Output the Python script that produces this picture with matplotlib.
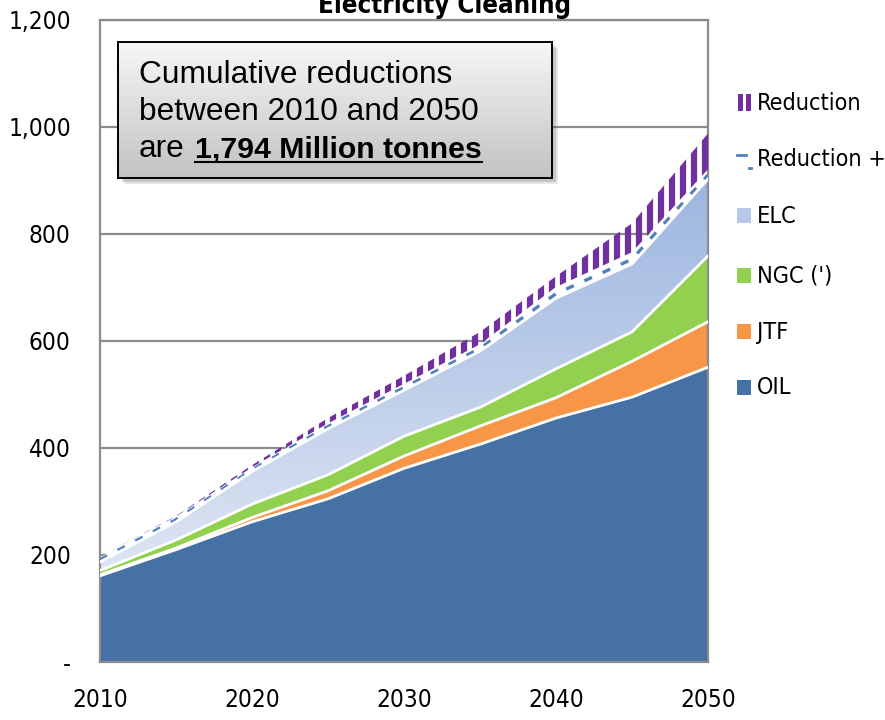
import numpy as np
import matplotlib
import matplotlib.pyplot as plt
from matplotlib.patches import Rectangle
from matplotlib.lines import Line2D
from matplotlib.colors import LinearSegmentedColormap

matplotlib.use("agg")

# CO2 emissions by sector, Mt (stacked)
years = [2010, 2015, 2020, 2025, 2030, 2035, 2040, 2045, 2050]
oil = [161, 210, 262, 305, 362, 407, 456, 495, 551]
jtf = [2, 3, 8, 15, 23, 34, 38, 67, 85]
ngc = [8, 15, 25, 30, 37, 35, 54, 55, 123]
elc = [16, 34, 61, 86, 86, 105, 132, 127, 144]
reduction_plus = [10, 10, 8, 10, 12, 13, 21, 22, 18]
reduction = [0, 1, 4, 10, 15, 23, 20, 54, 67]

legend_labels = ["Reduction", "Reduction +", "ELC", "NGC (')", "JTF", "OIL"]
x_ticks = [2010, 2020, 2030, 2040, 2050]
y_ticks = [0, 200, 400, 600, 800, 1000, 1200]
y_tick_labels = ["-", "200", "400", "600", "800", "1,000", "1,200"]

C_OIL = "#4571a5"
C_JTF = "#f79646"
C_NGC = "#92d050"
ELC_LOW = "#dde5f3"
ELC_HIGH = "#9db6e0"
C_RED = "#7030a0"
C_DASH = "#4f81bd"
C_GRID = "#8c8c8c"

W, H = 885, 720
NARROW = dict(family="DejaVu Sans", fontstretch="condensed")


def fpos(px, py):
    # pixel position (from top-left) -> figure fraction
    return px / W, 1 - py / H


fig = plt.figure(figsize=(W / 100, H / 100), dpi=100)
ax = fig.add_axes([100 / W, 1 - 662 / H, 608 / W, 642 / H])

x = np.array(years, float)
layers = np.array([oil, jtf, ngc, elc, reduction_plus, reduction], float)
tops = np.cumsum(layers, axis=0)
bottoms = np.vstack([np.zeros(len(x)), tops[:-1]])

ax.fill_between(x, bottoms[0], tops[0], color=C_OIL, lw=0, zorder=2)
ax.fill_between(x, bottoms[1], tops[1], color=C_JTF, lw=0, zorder=2)
ax.fill_between(x, bottoms[2], tops[2], color=C_NGC, lw=0, zorder=2)

# ELC band with a vertical gradient
elc_poly = ax.fill_between(x, bottoms[3], tops[3], facecolor="none", lw=0)
grad = np.linspace(0, 1, 256).reshape(-1, 1)
cmap = LinearSegmentedColormap.from_list("elc", [ELC_LOW, ELC_HIGH])
im = ax.imshow(grad, cmap=cmap, origin="lower", aspect="auto", zorder=2,
               extent=[x[0], x[-1], bottoms[3].min(), tops[3].max()])
im.set_clip_path(elc_poly.get_paths()[0], transform=ax.transData)

# Reduction + : white band with blue dashes
ax.fill_between(x, bottoms[4], tops[4], color="white", lw=0, zorder=2)
ax.plot(x, bottoms[4] + 0.4 * layers[4], color=C_DASH, lw=2.4,
        dashes=(2.5, 3.5), zorder=3)

# Reduction : purple vertical stripes clipped to the band
red_poly = ax.fill_between(x, bottoms[5], tops[5], facecolor="none", lw=0)
stripe_x = np.arange(x[-1] - 0.2, x[0], -0.72)
stripes = ax.vlines(stripe_x, np.interp(stripe_x, x, bottoms[5]) - 10,
                    np.interp(stripe_x, x, tops[5]) + 10,
                    colors=C_RED, lw=4.5, zorder=3)
stripes.set_clip_path(red_poly.get_paths()[0], transform=ax.transData)

# white separators between the stacked areas
for k in range(4):
    ax.plot(x, tops[k], color="white", lw=2, zorder=4)

ax.set_xlim(2010, 2050)
ax.set_ylim(0, 1200)
ax.set_xticks(x_ticks)
ax.set_yticks(y_ticks)
ax.set_yticklabels(y_tick_labels)
ax.yaxis.grid(True, color=C_GRID, lw=1.6)
ax.set_axisbelow(True)
for s in ax.spines.values():
    s.set_color(C_GRID)
    s.set_linewidth(1.6)
ax.tick_params(length=0, labelsize=17.5)
ax.tick_params(axis="x", pad=19)
ax.tick_params(axis="y", pad=21)
for lab in ax.get_xticklabels() + ax.get_yticklabels():
    lab.set_family(NARROW["family"])
    lab.set_fontstretch(NARROW["fontstretch"])

# title, partly above the top edge
fig.text(*fpos(445, 13), "Electricity Cleaning", ha="center", va="baseline",
         fontsize=18.5, fontweight="bold", **NARROW)

# legend
leg_y = [103, 160, 216, 276, 332, 388]
leg_colors = [None, None, "#b7c8e8", C_NGC, C_JTF, C_OIL]
for lab, yy, col in zip(legend_labels, leg_y, leg_colors):
    if lab == "Reduction":
        for bx in (738, 746):
            fig.add_artist(Rectangle(fpos(bx, yy + 8), 4.5 / W, 17 / H,
                                     transform=fig.transFigure, color=C_RED, lw=0))
    elif lab == "Reduction +":
        fig.add_artist(Line2D([737 / W, 746 / W], [1 - (yy - 5) / H] * 2,
                              transform=fig.transFigure, color=C_DASH, lw=2))
        fig.add_artist(Line2D([749 / W, 751 / W], [1 - (yy + 8) / H] * 2,
                              transform=fig.transFigure, color=C_DASH, lw=2))
    else:
        fig.add_artist(Rectangle(fpos(737, yy + 7), 14 / W, 15 / H,
                                 transform=fig.transFigure, color=col, lw=0))
    fig.text(*fpos(757, yy), lab, va="center", ha="left", fontsize=16.8,
             **NARROW)

# annotation box with shadow and gradient fill
bx0, by0, bx1, by1 = 118, 42, 552, 178
for off, a in ((6, 0.15), (4, 0.25)):
    fig.add_artist(Rectangle(fpos(bx0 + off, by1 + off), (bx1 - bx0) / W,
                             (by1 - by0) / H, transform=fig.transFigure,
                             color="#606060", alpha=a, lw=0, zorder=4))
box = fig.add_axes([bx0 / W, 1 - by1 / H, (bx1 - bx0) / W, (by1 - by0) / H],
                   zorder=5)
box_cmap = LinearSegmentedColormap.from_list("box", ["#c2c2c2", "#f7f7f7"])
box.imshow(grad, cmap=box_cmap, origin="lower", aspect="auto")
box.set_xticks([])
box.set_yticks([])
for s in box.spines.values():
    s.set_color("black")
    s.set_linewidth(1.4)

fs = 22.8
fig.text(*fpos(139, 83), "Cumulative reductions", fontsize=fs,
         family="Liberation Sans", va="baseline", zorder=6)
fig.text(*fpos(139, 120), "between 2010 and 2050", fontsize=fs,
         family="Liberation Sans", va="baseline", zorder=6)
t_are = fig.text(*fpos(139, 157), "are", fontsize=fs,
                 family="Liberation Sans", va="baseline", zorder=6)
r = fig.canvas.get_renderer()
bb = t_are.get_window_extent(r)
t_val = fig.text((bb.x1 + 10) / W, 1 - 157 / H, "1,794 Million tonnes",
                 fontsize=21.8, fontweight="bold", family="Liberation Sans",
                 va="baseline", zorder=6)
vb = t_val.get_window_extent(r)
fig.add_artist(Line2D([vb.x0 / W, vb.x1 / W], [1 - 162 / H] * 2,
                      transform=fig.transFigure, color="black", lw=1.5,
                      zorder=6))

fig.savefig("out.png", dpi=100, facecolor="white")
plt.close(fig)
